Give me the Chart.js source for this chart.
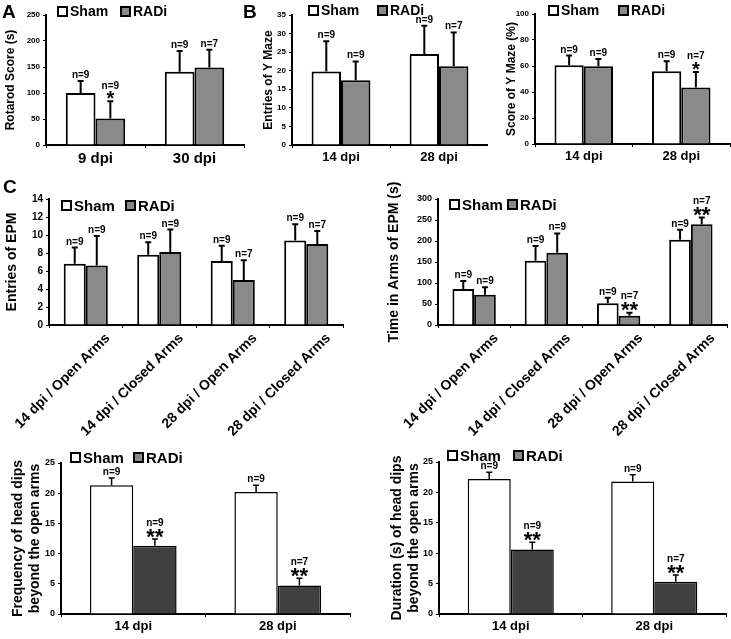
<!DOCTYPE html>
<html>
<head>
<meta charset="utf-8">
<script src="https://cdn.jsdelivr.net/npm/chart.js@4.4.1/dist/chart.umd.min.js"></script>
<style>
  body { margin: 0; background: #fff; }
  #fig { position: relative; width: 731px; height: 639px; overflow: hidden;
         font-family: "Liberation Sans", Arial, sans-serif; font-weight: bold; color: #000; }
  #fig canvas { position: absolute; }
  .letter { position: absolute; font-size: 19px; line-height: 1; }
  .leg { position: absolute; display: flex; align-items: center; line-height: 1; white-space: nowrap; }
  .leg i { display: inline-block; width: 7px; height: 7px; border: 2px solid #000; margin-right: 2px; }
</style>
</head>
<body>
<div id="fig"></div>
<script>
// ---- data ----
const seriesNames = ['Sham', 'RADi'];

// A: rotarod
const rotarodCats = ['9 dpi', '30 dpi'];
const rotarodSham = [100, 141];
const rotarodShamErr = [23, 40];
const rotarodRadi = [51, 149];
const rotarodRadiErr = [33, 34];
const rotarodShamN = ['n=9', 'n=9'];
const rotarodRadiN = ['n=9', 'n=7'];
const rotarodRadiStars = ['*', ''];

// B: Y maze entries
const ymazeCats = ['14 dpi', '28 dpi'];
const entriesSham = [19.8, 24.5];
const entriesShamErr = [8.1, 7.6];
const entriesRadi = [17.4, 21.2];
const entriesRadiErr = [5.1, 9.1];
const entriesShamN = ['n=9', 'n=9'];
const entriesRadiN = ['n=9', 'n=7'];

// B: Y maze score
const scoreSham = [60.5, 56];
const scoreShamErr = [7.5, 7.6];
const scoreRadi = [59.8, 43.5];
const scoreRadiErr = [5.5, 11.9];
const scoreShamN = ['n=9', 'n=9'];
const scoreRadiN = ['n=9', 'n=7'];
const scoreRadiStars = ['', '*'];

// C: EPM
const epmCats = ['14 dpi / Open Arms', '14 dpi / Closed Arms', '28 dpi / Open Arms', '28 dpi / Closed Arms'];
const epmEntriesSham = [6.8, 7.8, 7.1, 9.4];
const epmEntriesShamErr = [1.8, 1.4, 1.7, 1.8];
const epmEntriesRadi = [6.6, 8.1, 5.0, 9.0];
const epmEntriesRadiErr = [3.3, 2.5, 2.2, 1.45];
const epmTimeSham = [86, 153, 52, 203];
const epmTimeShamErr = [19, 35, 13, 24];
const epmTimeRadi = [72, 172, 22, 240];
const epmTimeRadiErr = [18, 46, 7, 16];
const epmShamN = ['n=9', 'n=9', 'n=9', 'n=9'];
const epmRadiN = ['n=9', 'n=9', 'n=7', 'n=7'];
const epmTimeRadiStars = ['', '', '**', '**'];

// head dips
const dipCats = ['14 dpi', '28 dpi'];
const dipFreqSham = [21.3, 20.2];
const dipFreqShamErr = [1.2, 1.1];
const dipFreqRadi = [11.3, 4.7];
const dipFreqRadiErr = [1.1, 1.2];
const dipDurSham = [22.2, 21.8];
const dipDurShamErr = [1.1, 1.1];
const dipDurRadi = [10.6, 5.3];
const dipDurRadiErr = [1.2, 1.1];
const dipShamN = ['n=9', 'n=9'];
const dipRadiN = ['n=9', 'n=7'];
const dipRadiStars = ['**', '**'];

const FONT = '"Liberation Sans", Arial, sans-serif';
Chart.defaults.font.family = FONT;
Chart.defaults.font.weight = 'bold';
Chart.defaults.color = '#000';

const fig = document.getElementById('fig');

// error bars + n labels + significance stars
const barNotes = {
  id: 'barNotes',
  afterDatasetsDraw(chart, args, o) {
    const { ctx } = chart;
    const y = chart.scales.y;
    chart.data.datasets.forEach((ds, di) => {
      chart.getDatasetMeta(di).data.forEach((bar, i) => {
        const top = y.getPixelForValue(ds.data[i] + ds.errors[i]);
        ctx.save();
        ctx.strokeStyle = '#000';
        ctx.lineWidth = o.lineWidth;
        ctx.beginPath();
        ctx.moveTo(bar.x, bar.y);
        ctx.lineTo(bar.x, top);
        ctx.moveTo(bar.x - o.cap, top);
        ctx.lineTo(bar.x + o.cap, top);
        ctx.stroke();
        ctx.fillStyle = '#000';
        ctx.textAlign = 'center';
        ctx.textBaseline = 'alphabetic';
        let base = top - 3;
        const star = ds.stars ? ds.stars[i] : '';
        if (star) {
          const fs = star.length > 1 ? o.star2 : o.star1;
          ctx.font = 'bold ' + fs + 'px ' + FONT;
          const sb = top - 5 + 0.43 * fs;
          ctx.fillText(star, bar.x, sb);
          base = sb - 0.72 * fs - 2;
        }
        ctx.font = 'bold ' + o.nSize + 'px ' + FONT;
        ctx.fillText(ds.notes[i], bar.x, base);
        ctx.restore();
      });
    });
  }
};

function legend(x, y, radiBox, size, gap) {
  const colors = ['#fff', radiBox];
  seriesNames.forEach((name, k) => {
    const d = document.createElement('div');
    d.className = 'leg';
    d.style.left = (x + k * gap) + 'px';
    d.style.top = y + 'px';
    d.style.fontSize = size + 'px';
    d.innerHTML = '<i style="background:' + colors[k] + '"></i>' + name;
    fig.appendChild(d);
  });
}

function letter(t, x, y) {
  const d = document.createElement('div');
  d.className = 'letter';
  d.textContent = t;
  d.style.left = x + 'px';
  d.style.top = y + 'px';
  fig.appendChild(d);
}

// box: [left, top, w, h] of canvas; area: [axisX, top, right, bottom] in page px
function panel(p) {
  const [L, T, W, H] = p.box;
  const [ax, at, ar, ab] = p.area;
  const cv = document.createElement('canvas');
  cv.width = W; cv.height = H;
  cv.style.left = L + 'px'; cv.style.top = T + 'px';
  fig.appendChild(cv);
  new Chart(cv, {
    type: 'bar',
    data: {
      labels: p.labels,
      datasets: [
        { label: seriesNames[0], data: p.sham, errors: p.shamErr, notes: p.shamN, backgroundColor: '#fff' },
        { label: seriesNames[1], data: p.radi, errors: p.radiErr, notes: p.radiN, stars: p.radiStars, backgroundColor: p.radiColor }
      ]
    },
    options: {
      responsive: false,
      animation: false,
      devicePixelRatio: 1,
      layout: { padding: { left: 0, top: at - T, right: L + W - ar, bottom: 0 } },
      datasets: { bar: { borderColor: '#000', borderWidth: p.bw, categoryPercentage: 0.6, barPercentage: 1 } },
      plugins: {
        legend: { display: false },
        tooltip: { enabled: false },
        barNotes: { lineWidth: p.bw, cap: 3, star1: 20, star2: 22, nSize: p.nSize }
      },
      scales: {
        x: {
          afterFit(s) { s.height = T + H - ab; s.paddingLeft = 0; s.paddingRight = 0; },
          grid: { drawOnChartArea: false, color: '#000', tickLength: 3, offset: true },
          border: { color: '#000', width: 2 },
          ticks: Object.assign({ font: { size: p.xSize, weight: 'bold' }, color: '#000', padding: 2, autoSkip: false,
                                 maxRotation: 0, minRotation: 0 }, p.xTicks || {})
        },
        y: {
          afterFit(s) { s.width = ax - L; },
          min: 0, max: p.yMax,
          grid: { drawOnChartArea: false, color: '#000', tickLength: 3 },
          border: { color: '#000', width: 2 },
          ticks: { stepSize: p.step, font: { size: p.ySize, weight: 'bold' }, color: '#000', padding: 3 },
          title: { display: true, text: p.title, color: '#000',
                   font: { size: p.titleSize, weight: 'bold', lineHeight: 1.2 },
                   padding: { top: p.titlePad, bottom: 0 } }
        }
      }
    },
    plugins: [barNotes]
  });
}

const GRAY = '#8a8a8a';
const DARK = '#404040';

panel({ box: [0, 0, 245, 170], area: [46, 15, 244, 145], labels: rotarodCats,
  sham: rotarodSham, shamErr: rotarodShamErr, shamN: rotarodShamN,
  radi: rotarodRadi, radiErr: rotarodRadiErr, radiN: rotarodRadiN, radiStars: rotarodRadiStars,
  radiColor: GRAY, bw: 2, nSize: 10, yMax: 250, step: 50, ySize: 8, xSize: 15,
  title: 'Rotarod Score (s)', titleSize: 12, titlePad: 3 });

panel({ box: [240, 0, 248, 170], area: [292, 15, 488, 145], labels: ymazeCats,
  sham: entriesSham, shamErr: entriesShamErr, shamN: entriesShamN,
  radi: entriesRadi, radiErr: entriesRadiErr, radiN: entriesRadiN,
  radiColor: GRAY, bw: 2, nSize: 10, yMax: 35, step: 5, ySize: 8, xSize: 13,
  title: 'Entries of Y Maze', titleSize: 12, titlePad: 21 });

panel({ box: [486, 0, 245, 170], area: [535, 14, 730, 144], labels: ymazeCats,
  sham: scoreSham, shamErr: scoreShamErr, shamN: scoreShamN,
  radi: scoreRadi, radiErr: scoreRadiErr, radiN: scoreRadiN, radiStars: scoreRadiStars,
  radiColor: GRAY, bw: 2, nSize: 10, yMax: 100, step: 20, ySize: 8, xSize: 13,
  title: 'Score of Y Maze (%)', titleSize: 12, titlePad: 18 });

panel({ box: [0, 175, 365, 270], area: [49, 199, 343, 325], labels: epmCats,
  sham: epmEntriesSham, shamErr: epmEntriesShamErr, shamN: epmShamN,
  radi: epmEntriesRadi, radiErr: epmEntriesRadiErr, radiN: epmRadiN,
  radiColor: GRAY, bw: 2, nSize: 10, yMax: 14, step: 2, ySize: 10, xSize: 14,
  xTicks: { maxRotation: 45, minRotation: 45, labelOffset: 22 },
  title: 'Entries of EPM', titleSize: 14, titlePad: 4 });

panel({ box: [365, 175, 366, 270], area: [438, 199, 727, 325], labels: epmCats,
  sham: epmTimeSham, shamErr: epmTimeShamErr, shamN: epmShamN,
  radi: epmTimeRadi, radiErr: epmTimeRadiErr, radiN: epmRadiN, radiStars: epmTimeRadiStars,
  radiColor: GRAY, bw: 2, nSize: 10, yMax: 300, step: 50, ySize: 9, xSize: 14,
  xTicks: { maxRotation: 45, minRotation: 45, labelOffset: 22 },
  title: 'Time in Arms of EPM (s)', titleSize: 14, titlePad: 21 });

panel({ box: [0, 445, 365, 194], area: [61, 463, 350, 614], labels: dipCats,
  sham: dipFreqSham, shamErr: dipFreqShamErr, shamN: dipShamN,
  radi: dipFreqRadi, radiErr: dipFreqRadiErr, radiN: dipRadiN, radiStars: dipRadiStars,
  radiColor: DARK, bw: 1.5, nSize: 10, yMax: 25, step: 5, ySize: 9, xSize: 13,
  title: ['Frequency of head dips', 'beyond the open arms'], titleSize: 14, titlePad: 10 });

panel({ box: [365, 445, 366, 194], area: [439, 462, 726, 614], labels: dipCats,
  sham: dipDurSham, shamErr: dipDurShamErr, shamN: dipShamN,
  radi: dipDurRadi, radiErr: dipDurRadiErr, radiN: dipRadiN, radiStars: dipRadiStars,
  radiColor: DARK, bw: 1.5, nSize: 10, yMax: 25, step: 5, ySize: 9, xSize: 13,
  title: ['Duration (s) of head dips', 'beyond the open arms'], titleSize: 14, titlePad: 24 });

legend(57, 4, GRAY, 14, 63);
legend(308, 3, GRAY, 14, 69);
legend(548, 3, GRAY, 14, 70);
legend(61, 198, GRAY, 15, 64);
legend(449, 197, GRAY, 15, 58);
legend(70, 450, GRAY, 15, 63);
legend(447, 448, GRAY, 15, 66);

letter('A', 2, 2);
letter('B', 243, 2);
letter('C', 3, 177);
</script>
</body>
</html>
